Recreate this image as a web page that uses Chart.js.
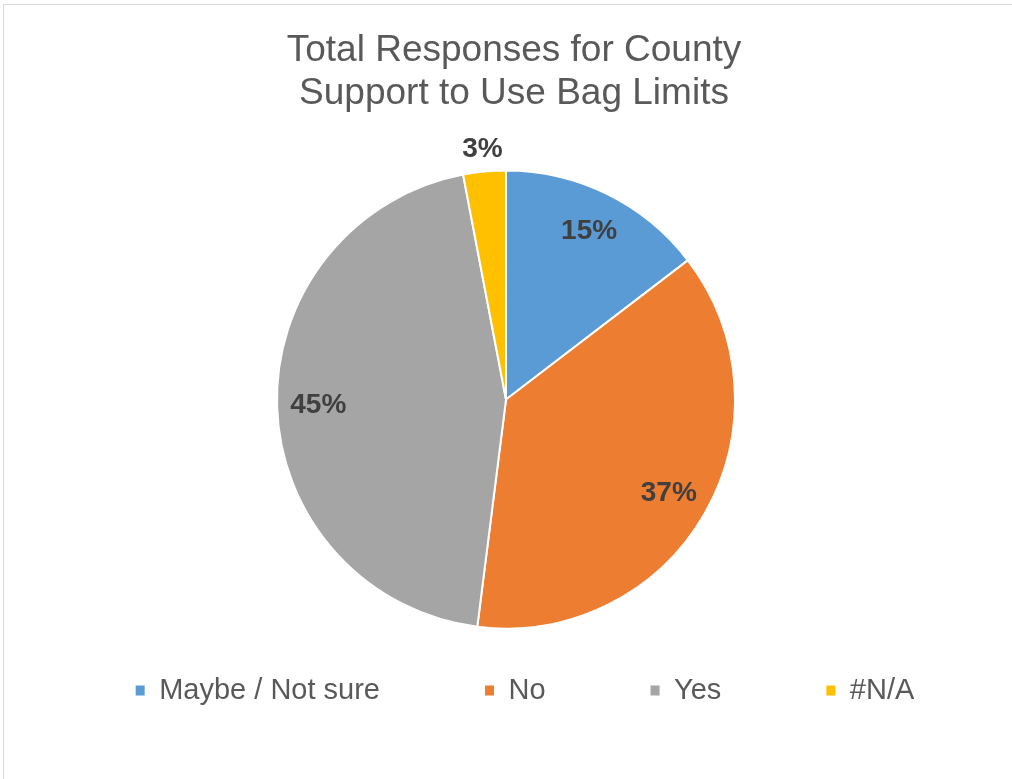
<!DOCTYPE html>
<html>
<head>
<meta charset="utf-8">
<script src="https://cdn.jsdelivr.net/npm/chart.js@4.4.1/dist/chart.umd.min.js"></script>
<style>
	html, body { margin: 0; padding: 0; background: #fff; overflow: hidden; }
	#wrap { position: relative; width: 1012px; height: 779px; }
	#frame { position: absolute; left: 3px; top: 4px; width: 1040px; height: 820px; border: 1px solid #d9d9d9; box-sizing: border-box; }
	#grafico { position: absolute; left: 0; top: 0; }
</style>
</head>
<body>
<div id="wrap">
	<div id="frame"></div>
	<canvas id="grafico" width="1012" height="779"></canvas>
</div>
<script>
// Dados
const categorias = ["Maybe / Not sure", "No", "Yes", "#N/A"];
const percentuais = [14.6, 37.4, 45, 3];
const titulo = ["Total Responses for County", "Support to Use Bag Limits"];

const cores = ["#5b9bd5", "#ed7d31", "#a5a5a5", "#ffc000"];
const fonte = "'Liberation Sans', Arial, sans-serif";

// Rótulos de porcentagem sobre as fatias
const rotulos = {
	id: "rotulos",
	afterDatasetsDraw(chart) {
		const ctx = chart.ctx;
		const meta = chart.getDatasetMeta(0);
		const dados = chart.data.datasets[0].data;
		const total = dados.reduce((a, b) => a + b, 0);
		ctx.save();
		ctx.font = "bold 28px " + fonte;
		ctx.fillStyle = "#404040";
		ctx.textAlign = "center";
		ctx.textBaseline = "middle";
		meta.data.forEach((arco, i) => {
			const frac = dados[i] / total;
			const meio = (arco.startAngle + arco.endAngle) / 2;
			// fatias pequenas ficam do lado de fora
			const r = frac < 0.05 ? arco.outerRadius + 22 : arco.outerRadius * 0.82;
			const x = arco.x + Math.cos(meio) * r;
			const y = arco.y + Math.sin(meio) * r;
			ctx.fillText(Math.round(frac * 100) + "%", x, y);
		});
		ctx.restore();
	},
};

// Ajuste fino do título e da legenda (centro diferente da pizza)
const deslocar = {
	id: "deslocar",
	afterLayout(chart) {
		chart.legend.left += 19;
		chart.legend.right += 19;
		chart.titleBlock.left += 8;
		chart.titleBlock.right += 8;
	},
};

const ctx = document.getElementById("grafico");

const chart = new Chart(ctx, {
	type: "pie",
	data: {
		labels: categorias,
		datasets: [
			{
				data: percentuais,
				backgroundColor: cores,
				borderColor: "#ffffff",
				borderWidth: 2,
			},
		],
	},
	options: {
		responsive: false,
		animation: false,
		radius: 229,
		layout: {
			padding: { top: 0, bottom: 64, left: 0, right: 0 },
		},
		plugins: {
			title: {
				display: true,
				text: titulo,
				color: "#595959",
				font: { family: fonte, size: 37, weight: "normal", lineHeight: 1.15 },
				padding: { top: 30, bottom: 113 },
			},
			legend: {
				display: true,
				position: "bottom",
				labels: {
					color: "#595959",
					font: { family: fonte, size: 29 },
					boxWidth: 9,
					boxHeight: 10,
					padding: 105,
					generateLabels(chart) {
						const itens = Chart.overrides.pie.plugins.legend.labels.generateLabels(chart);
						itens.forEach((item) => {
							item.lineWidth = 0;
							item.strokeStyle = item.fillStyle;
						});
						return itens;
					},
				},
			},
			tooltip: { enabled: false },
		},
	},
	plugins: [rotulos, deslocar],
});
</script>
</body>
</html>
